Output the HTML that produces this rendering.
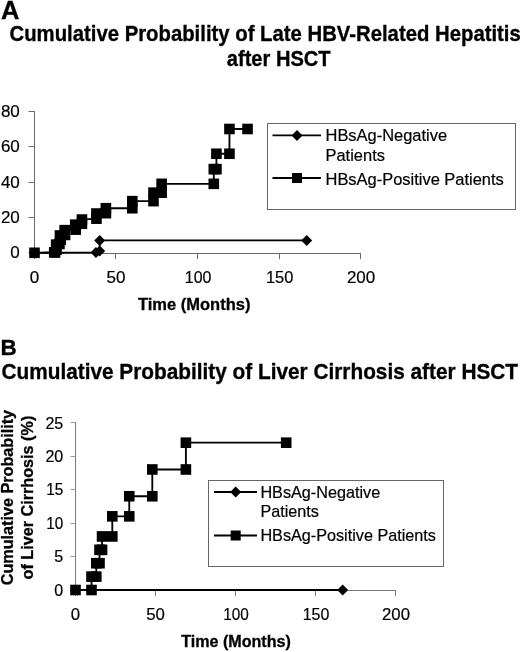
<!DOCTYPE html><html><head><meta charset="utf-8"><title>Figure</title>
<style>html,body{margin:0;padding:0;background:#fff}svg{display:block}text{font-family:"Liberation Sans",sans-serif;fill:#000;stroke:#000;stroke-width:0.2px}.b{font-weight:bold;stroke:#000;stroke-width:0.3px}</style></head><body>
<svg width="520" height="652" viewBox="0 0 520 652">
<rect width="520" height="652" fill="#fff"/>
<text class="b" x="1" y="18.7" font-size="25.5">A</text>
<text class="b" transform="translate(9.5 41.2) scale(1 1.06)" font-size="20.3" textLength="511.3" lengthAdjust="spacingAndGlyphs">Cumulative Probability of Late HBV-Related Hepatitis</text>
<text class="b" transform="translate(278.7 66) scale(1 1.06)" font-size="20.1" text-anchor="middle">after HSCT</text>
<g stroke="#6a6a6a" stroke-width="1" fill="none">
<path d="M34.5 111V253.5H361"/>
<path d="M28.5 252.5H34.5"/>
<path d="M28.5 217.5H34.5"/>
<path d="M28.5 182.5H34.5"/>
<path d="M28.5 146.5H34.5"/>
<path d="M28.5 111.5H34.5"/>
<path d="M34.5 253.5V259"/>
<path d="M115.5 253.5V259"/>
<path d="M197.5 253.5V259"/>
<path d="M279.5 253.5V259"/>
<path d="M360.5 253.5V259"/>
</g>
<text x="19.8" y="258.4" font-size="17" text-anchor="end">0</text>
<text x="19.8" y="223.03" font-size="17" text-anchor="end">20</text>
<text x="19.8" y="187.65" font-size="17" text-anchor="end">40</text>
<text x="19.8" y="152.28" font-size="17" text-anchor="end">60</text>
<text x="19.8" y="116.9" font-size="17" text-anchor="end">80</text>
<text x="34.5" y="283" font-size="17" text-anchor="middle">0</text>
<text x="116" y="283" font-size="17" text-anchor="middle">50</text>
<text x="198.1" y="283" font-size="17" text-anchor="middle" textLength="26.6" lengthAdjust="spacingAndGlyphs">100</text>
<text x="279.6" y="283" font-size="17" text-anchor="middle" textLength="27.4" lengthAdjust="spacingAndGlyphs">150</text>
<text x="361.1" y="283" font-size="17" text-anchor="middle">200</text>
<text class="b" x="194.2" y="310.2" font-size="16.5" text-anchor="middle">Time (Months)</text>
<path d="M34.5 252.8L95.95 252.45L99.7 251.03L99.7 240.42L306.71 240.42" stroke="#000" stroke-width="1.85" fill="none" stroke-linejoin="miter"/>
<path d="M29 252.8L34.5 247.3L40 252.8L34.5 258.3Z" fill="#000"/>
<path d="M90.45 252.45L95.95 246.95L101.45 252.45L95.95 257.95Z" fill="#000"/>
<path d="M94.2 251.03L99.7 245.53L105.2 251.03L99.7 256.53Z" fill="#000"/>
<path d="M94.2 240.42L99.7 234.92L105.2 240.42L99.7 245.92Z" fill="#000"/>
<path d="M301.21 240.42L306.71 234.92L312.21 240.42L306.71 245.92Z" fill="#000"/>
<path d="M34.5 252.8L54.22 252.27L55.04 252.45L56.5 249.79L56.18 244.66L59.44 243.96L60.74 239.71L59.93 235.47L65.14 234.94L64.66 230.16L75.74 229.63L75.25 224.68L81.93 223.79L81.93 219.55L96.44 218.66L96.44 213.53L105.89 213.18L105.89 208.23L132.3 208.23L132.3 201.15L153.49 201.15L153.49 192.66L161.64 192.66L161.64 183.82L213.8 183.82L213.8 169.14L216.41 169.14L216.41 153.75L229.45 153.75L229.45 128.99L247.54 128.99" stroke="#000" stroke-width="1.85" fill="none" stroke-linejoin="miter"/>
<rect x="29.2" y="247.5" width="10.6" height="10.6" fill="#000"/>
<rect x="48.92" y="246.97" width="10.6" height="10.6" fill="#000"/>
<rect x="49.74" y="247.15" width="10.6" height="10.6" fill="#000"/>
<rect x="51.2" y="244.49" width="10.6" height="10.6" fill="#000"/>
<rect x="50.88" y="239.36" width="10.6" height="10.6" fill="#000"/>
<rect x="54.14" y="238.66" width="10.6" height="10.6" fill="#000"/>
<rect x="55.44" y="234.41" width="10.6" height="10.6" fill="#000"/>
<rect x="54.63" y="230.17" width="10.6" height="10.6" fill="#000"/>
<rect x="59.84" y="229.64" width="10.6" height="10.6" fill="#000"/>
<rect x="59.36" y="224.86" width="10.6" height="10.6" fill="#000"/>
<rect x="70.44" y="224.33" width="10.6" height="10.6" fill="#000"/>
<rect x="69.95" y="219.38" width="10.6" height="10.6" fill="#000"/>
<rect x="76.63" y="218.49" width="10.6" height="10.6" fill="#000"/>
<rect x="76.63" y="214.25" width="10.6" height="10.6" fill="#000"/>
<rect x="91.14" y="213.36" width="10.6" height="10.6" fill="#000"/>
<rect x="91.14" y="208.23" width="10.6" height="10.6" fill="#000"/>
<rect x="100.59" y="207.88" width="10.6" height="10.6" fill="#000"/>
<rect x="100.59" y="202.93" width="10.6" height="10.6" fill="#000"/>
<rect x="127" y="202.93" width="10.6" height="10.6" fill="#000"/>
<rect x="127" y="195.85" width="10.6" height="10.6" fill="#000"/>
<rect x="148.19" y="195.85" width="10.6" height="10.6" fill="#000"/>
<rect x="148.19" y="187.36" width="10.6" height="10.6" fill="#000"/>
<rect x="156.34" y="187.36" width="10.6" height="10.6" fill="#000"/>
<rect x="156.34" y="178.52" width="10.6" height="10.6" fill="#000"/>
<rect x="208.5" y="178.52" width="10.6" height="10.6" fill="#000"/>
<rect x="208.5" y="163.84" width="10.6" height="10.6" fill="#000"/>
<rect x="211.11" y="163.84" width="10.6" height="10.6" fill="#000"/>
<rect x="211.11" y="148.45" width="10.6" height="10.6" fill="#000"/>
<rect x="224.15" y="148.45" width="10.6" height="10.6" fill="#000"/>
<rect x="224.15" y="123.69" width="10.6" height="10.6" fill="#000"/>
<rect x="242.24" y="123.69" width="10.6" height="10.6" fill="#000"/>
<rect x="267.5" y="123.5" width="248.0" height="86.0" fill="#fff" stroke="#666" stroke-width="1"/>
<path d="M272.5 135.4H321M272.5 178H321" stroke="#000" stroke-width="1.85"/>
<path d="M291.5 135.4L297 129.9L302.5 135.4L297 140.9Z" fill="#000"/>
<rect x="292" y="173" width="10" height="10" fill="#000"/>
<text x="325.5" y="141.2" font-size="16.3" textLength="121.62" lengthAdjust="spacingAndGlyphs">HBsAg-Negative</text>
<text x="325.5" y="160.5" font-size="16.3" textLength="59.44" lengthAdjust="spacingAndGlyphs">Patients</text>
<text x="325.5" y="184.5" font-size="16.3" textLength="178.3" lengthAdjust="spacingAndGlyphs">HBsAg-Positive Patients</text>
<text class="b" x="0.6" y="355.2" font-size="22.5">B</text>
<text class="b" transform="translate(1.5 379) scale(1 1.05)" font-size="20.5" textLength="516.5" lengthAdjust="spacingAndGlyphs">Cumulative Probability of Liver Cirrhosis after HSCT</text>
<g stroke="#7a7a7a" stroke-width="1" fill="none">
<path d="M75.5 422V590.5H396"/>
<path d="M70.5 590.5H75.5" stroke="#999"/>
<path d="M70.5 556.5H75.5" stroke="#999"/>
<path d="M70.5 523.5H75.5" stroke="#999"/>
<path d="M70.5 489.5H75.5" stroke="#999"/>
<path d="M70.5 456.5H75.5" stroke="#999"/>
<path d="M70.5 422.5H75.5" stroke="#999"/>
<path d="M75.5 590.5V596"/>
<path d="M155.5 590.5V596"/>
<path d="M235.5 590.5V596"/>
<path d="M315.5 590.5V596"/>
<path d="M395.5 590.5V596"/>
</g>
<text x="63.2" y="595.9" font-size="16" text-anchor="end">0</text>
<text x="63.2" y="562.42" font-size="16" text-anchor="end">5</text>
<text x="63.2" y="528.94" font-size="16" text-anchor="end" textLength="17" lengthAdjust="spacingAndGlyphs">10</text>
<text x="63.2" y="495.46" font-size="16" text-anchor="end" textLength="17" lengthAdjust="spacingAndGlyphs">15</text>
<text x="63.2" y="461.98" font-size="16" text-anchor="end">20</text>
<text x="63.2" y="428.5" font-size="16" text-anchor="end">25</text>
<text x="75.5" y="620" font-size="16.8" text-anchor="middle">0</text>
<text x="155.5" y="620" font-size="16.8" text-anchor="middle">50</text>
<text x="236" y="620" font-size="16.8" text-anchor="middle" textLength="25.6" lengthAdjust="spacingAndGlyphs">100</text>
<text x="316" y="620" font-size="16.8" text-anchor="middle" textLength="26.6" lengthAdjust="spacingAndGlyphs">150</text>
<text x="396" y="620" font-size="16.8" text-anchor="middle">200</text>
<text class="b" x="236" y="647.2" font-size="16.1" text-anchor="middle">Time (Months)</text>
<text class="b" transform="translate(13.1 497.6) rotate(-90)" font-size="15.8" text-anchor="middle" textLength="175.3" lengthAdjust="spacingAndGlyphs">Cumulative Probability</text>
<text class="b" transform="translate(33 497.6) rotate(-90)" font-size="15.8" text-anchor="middle" textLength="163.8" lengthAdjust="spacingAndGlyphs">of Liver Cirrhosis (%)</text>
<path d="M75.5 590L342.7 590" stroke="#000" stroke-width="1.85" fill="none" stroke-linejoin="miter"/>
<path d="M70 590L75.5 584.5L81 590L75.5 595.5Z" fill="#000"/>
<path d="M337.2 590L342.7 584.5L348.2 590L342.7 595.5Z" fill="#000"/>
<path d="M75.5 590L91.5 590L91.5 576.61L96.3 576.61L96.3 563.22L99.5 563.22L99.5 549.82L102.06 549.82L102.06 536.43L112.3 536.43L112.3 516.34L129.26 516.34L129.26 496.26L152.3 496.26L152.3 469.47L185.9 469.47L185.9 442.69L286.22 442.69" stroke="#000" stroke-width="1.85" fill="none" stroke-linejoin="miter"/>
<rect x="70.2" y="584.7" width="10.6" height="10.6" fill="#000"/>
<rect x="86.2" y="584.7" width="10.6" height="10.6" fill="#000"/>
<rect x="86.2" y="571.31" width="10.6" height="10.6" fill="#000"/>
<rect x="91" y="571.31" width="10.6" height="10.6" fill="#000"/>
<rect x="91" y="557.92" width="10.6" height="10.6" fill="#000"/>
<rect x="94.2" y="557.92" width="10.6" height="10.6" fill="#000"/>
<rect x="94.2" y="544.52" width="10.6" height="10.6" fill="#000"/>
<rect x="96.76" y="544.52" width="10.6" height="10.6" fill="#000"/>
<rect x="96.76" y="531.13" width="10.6" height="10.6" fill="#000"/>
<rect x="107" y="531.13" width="10.6" height="10.6" fill="#000"/>
<rect x="107" y="511.04" width="10.6" height="10.6" fill="#000"/>
<rect x="123.96" y="511.04" width="10.6" height="10.6" fill="#000"/>
<rect x="123.96" y="490.96" width="10.6" height="10.6" fill="#000"/>
<rect x="147" y="490.96" width="10.6" height="10.6" fill="#000"/>
<rect x="147" y="464.17" width="10.6" height="10.6" fill="#000"/>
<rect x="180.6" y="464.17" width="10.6" height="10.6" fill="#000"/>
<rect x="180.6" y="437.39" width="10.6" height="10.6" fill="#000"/>
<rect x="280.92" y="437.39" width="10.6" height="10.6" fill="#000"/>
<rect x="208.5" y="480.5" width="235.0" height="86.0" fill="#fff" stroke="#666" stroke-width="1"/>
<path d="M214 492H257M214 535.5H257" stroke="#000" stroke-width="1.85"/>
<path d="M230.2 492L235.7 486.5L241.2 492L235.7 497.5Z" fill="#000"/>
<rect x="230.7" y="530.5" width="10" height="10" fill="#000"/>
<text x="260.4" y="497.8" font-size="16.1" textLength="119.77" lengthAdjust="spacingAndGlyphs">HBsAg-Negative</text>
<text x="260.4" y="517.3" font-size="16.1" textLength="58.54" lengthAdjust="spacingAndGlyphs">Patients</text>
<text x="260.4" y="541" font-size="16.1" textLength="175.6" lengthAdjust="spacingAndGlyphs">HBsAg-Positive Patients</text>
</svg></body></html>
